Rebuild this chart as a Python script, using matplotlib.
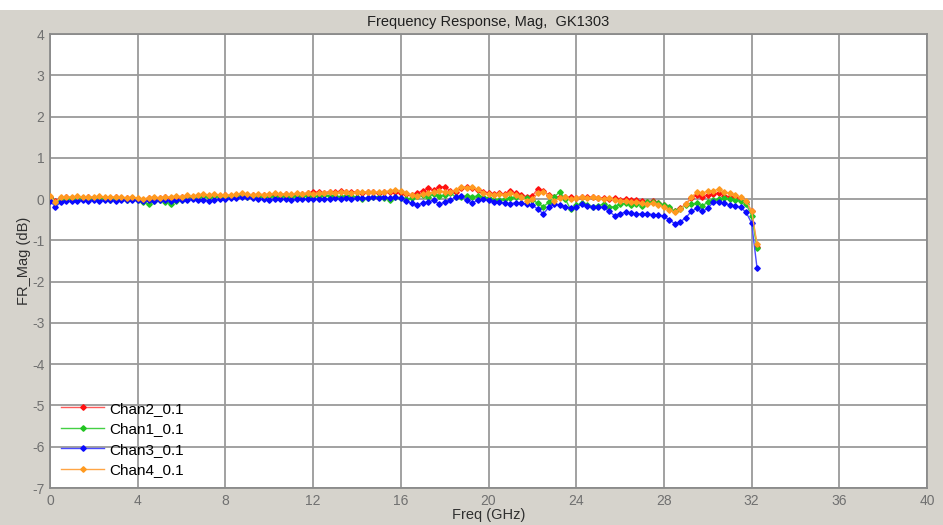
import numpy as np
import matplotlib
matplotlib.use("Agg")
import matplotlib.pyplot as plt
from matplotlib.patches import Rectangle

plt.rcParams["font.family"] = ["Liberation Sans", "DejaVu Sans"]
plt.rcParams["axes.unicode_minus"] = False

# Sweep frequencies (GHz), 0.25 GHz step
freq = np.arange(0, 32.5, 0.25)

# Magnitude response (dB) per channel, one row per 4 GHz
chan2 = [
    0.05, -0.05, 0.03, 0.04, 0.03, 0.05, 0.02, 0.04, 0.03, 0.05, 0.03, 0.02, 0.04, 0.03, 0.02, 0.03,
    0.01, -0.01, 0.02, 0.03, 0.02, 0.04, 0.03, 0.05, 0.04, 0.06, 0.05, 0.07, 0.09, 0.08, 0.10, 0.08,
    0.09, 0.08, 0.10, 0.11, 0.10, 0.09, 0.10, 0.10, 0.11, 0.12, 0.11, 0.12, 0.11, 0.13, 0.12, 0.14,
    0.16, 0.17, 0.15, 0.18, 0.17, 0.19, 0.16, 0.18, 0.17, 0.15, 0.17, 0.16, 0.15, 0.17, 0.16, 0.18,
    0.15, 0.12, 0.10, 0.15, 0.20, 0.26, 0.22, 0.30, 0.30, 0.20, 0.18, 0.26, 0.30, 0.28, 0.22, 0.18,
    0.15, 0.12, 0.14, 0.12, 0.20, 0.14, 0.10, 0.06, 0.08, 0.25, 0.20, 0.10, 0.05, 0.06, 0.04, 0.05,
    0.03, 0.05, 0.04, 0.05, 0.02, 0.03, 0.01, 0.02, -0.01, 0.00, -0.03, -0.02, -0.05, -0.06, -0.05, -0.10,
    -0.15, -0.22, -0.30, -0.22, -0.12, 0.02, 0.10, 0.06, 0.10, 0.12, 0.15, 0.08, 0.06, 0.04, 0.00, -0.08,
    -0.30, -1.15,
]
chan1 = [
    0.02, -0.10, 0.00, 0.01, 0.00, 0.02, 0.00, 0.01, 0.00, 0.02, 0.00, -0.01, 0.01, 0.00, -0.01, 0.00,
    -0.02, -0.06, -0.13, -0.05, -0.03, -0.06, -0.12, -0.04, -0.01, 0.01, 0.03, 0.05, 0.07, 0.05, 0.08, 0.06,
    0.06, 0.05, 0.07, 0.08, 0.06, 0.05, 0.06, 0.05, 0.07, 0.06, 0.05, 0.07, 0.06, 0.08, 0.07, 0.08,
    0.08, 0.07, 0.09, 0.08, 0.07, 0.06, 0.08, 0.07, 0.05, 0.00, 0.02, 0.06, 0.05, 0.02, -0.02, 0.04,
    0.02, 0.00, 0.02, 0.08, 0.10, 0.05, 0.12, 0.08, 0.10, 0.14, 0.06, 0.05, 0.08, 0.06, 0.07, 0.04,
    0.02, -0.01, -0.02, 0.00, 0.03, 0.06, 0.04, 0.02, -0.02, -0.10, -0.18, -0.08, 0.05, 0.18, 0.00, -0.25,
    -0.15, -0.10, -0.14, -0.18, -0.16, -0.12, -0.20, -0.18, -0.12, -0.10, -0.14, -0.12, -0.16, -0.08, -0.06, -0.10,
    -0.14, -0.20, -0.30, -0.24, -0.14, -0.12, -0.10, -0.16, -0.08, -0.03, 0.00, 0.02, 0.00, -0.02, -0.04, -0.12,
    -0.40, -1.18,
]
chan3 = [
    -0.05, -0.18, -0.08, -0.05, -0.04, -0.05, -0.03, -0.04, -0.03, -0.05, -0.03, -0.02, -0.04, -0.03, -0.02, -0.03,
    -0.03, -0.04, -0.02, -0.04, -0.03, -0.02, -0.04, -0.03, -0.01, -0.02, 0.00, -0.03, -0.01, -0.05, -0.02, 0.00,
    0.01, 0.02, 0.03, 0.05, 0.04, 0.02, 0.00, 0.01, -0.01, 0.00, 0.01, 0.00, -0.01, 0.00, 0.00, 0.01,
    0.00, 0.01, 0.00, 0.01, 0.02, 0.01, 0.02, 0.01, 0.03, 0.02, 0.03, 0.04, 0.03, 0.05, 0.02, 0.04,
    0.02, -0.05, -0.10, -0.14, -0.10, -0.06, -0.03, -0.12, -0.08, -0.03, 0.05, 0.08, -0.03, -0.10, -0.02, 0.00,
    -0.03, -0.06, -0.08, -0.10, -0.11, -0.09, -0.10, -0.12, -0.15, -0.24, -0.36, -0.20, -0.12, -0.14, -0.18, -0.22,
    -0.20, -0.12, -0.16, -0.18, -0.19, -0.20, -0.30, -0.40, -0.35, -0.32, -0.34, -0.36, -0.36, -0.35, -0.38, -0.38,
    -0.42, -0.50, -0.60, -0.55, -0.45, -0.30, -0.22, -0.30, -0.22, -0.08, -0.06, -0.10, -0.14, -0.16, -0.20, -0.32,
    -0.58, -1.68,
]
chan4 = [
    0.08, -0.08, 0.05, 0.06, 0.05, 0.07, 0.04, 0.06, 0.05, 0.07, 0.05, 0.04, 0.06, 0.05, 0.03, 0.05,
    0.02, 0.00, 0.03, 0.05, 0.03, 0.06, 0.05, 0.08, 0.06, 0.09, 0.07, 0.10, 0.12, 0.10, 0.12, 0.10,
    0.11, 0.09, 0.12, 0.14, 0.12, 0.10, 0.12, 0.11, 0.12, 0.14, 0.12, 0.13, 0.12, 0.14, 0.13, 0.15,
    0.13, 0.15, 0.14, 0.16, 0.15, 0.17, 0.16, 0.15, 0.17, 0.16, 0.18, 0.17, 0.16, 0.18, 0.20, 0.22,
    0.20, 0.15, 0.10, 0.08, 0.12, 0.14, 0.16, 0.20, 0.18, 0.17, 0.22, 0.30, 0.28, 0.29, 0.24, 0.15,
    0.12, 0.10, 0.12, 0.11, 0.14, 0.10, 0.04, -0.04, 0.00, 0.14, 0.18, 0.08, -0.04, 0.02, 0.05, 0.00,
    0.02, 0.05, 0.03, 0.04, 0.02, 0.00, 0.03, -0.02, -0.05, -0.04, -0.08, -0.06, -0.10, -0.12, -0.10, -0.14,
    -0.20, -0.26, -0.32, -0.25, -0.12, 0.05, 0.16, 0.15, 0.19, 0.20, 0.24, 0.17, 0.14, 0.10, 0.05, -0.05,
    -0.28, -1.10,
]

labels = ["Chan2_0.1", "Chan1_0.1", "Chan3_0.1", "Chan4_0.1"]
series = [chan2, chan1, chan3, chan4]
line_colors = ["#ff5a5a", "#44d044", "#4a4aff", "#ffa545"]
mark_colors = ["#ff1010", "#22c422", "#0a0aff", "#ff9a20"]

bg = "#d6d3cc"
fig = plt.figure(figsize=(9.43, 5.25), dpi=100, facecolor=bg)
fig.patches.append(Rectangle((0, 1 - 10 / 525), 1, 10 / 525, transform=fig.transFigure,
                             facecolor="white", edgecolor="none", zorder=0))
ax = fig.add_axes([50 / 943, 1 - 488 / 525, 877 / 943, 454 / 525])
ax.set_facecolor("white")

for vals, lab, lc, mc in zip(series, labels, line_colors, mark_colors):
    ax.plot(freq, vals, color=lc, lw=1.0, marker="D", ms=2.8,
            markerfacecolor=mc, markeredgecolor=mc, label=lab, zorder=3)

ax.set_xlim(0, 40)
ax.set_ylim(-7, 4)
ax.set_xticks(np.arange(0, 41, 4))
ax.set_yticks(np.arange(-7, 5, 1))
ax.grid(True, color="#9a9a9a", lw=1.3)
ax.tick_params(length=0, labelsize=10, colors="#707070", pad=4)
for s in ax.spines.values():
    s.set_color("#8a8a8a")
    s.set_linewidth(1.3)

ax.set_title("Frequency Response, Mag,  GK1303", fontsize=10.5, color="#202020", pad=6)
ax.set_xlabel("Freq (GHz)", fontsize=10.5, color="#303030", labelpad=0)
ax.set_ylabel("FR_Mag (dB)", fontsize=10.5, color="#303030", labelpad=1)

ax.legend(loc="upper left", bbox_to_anchor=(0.013, 0.19), frameon=False, fontsize=11,
          numpoints=1, handlelength=2.8, handletextpad=0.35, labelspacing=0.42,
          borderpad=0, borderaxespad=0)

fig.savefig("out.png", dpi=100, facecolor=bg)
